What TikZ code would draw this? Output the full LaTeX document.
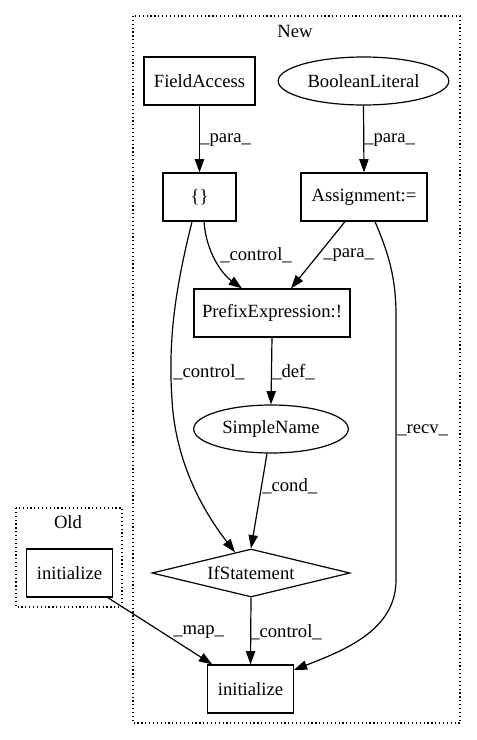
\documentclass[tikz,border=0pt]{standalone}
\usepackage{fontspec}
\setmainfont{Liberation Serif}
\usetikzlibrary{arrows.meta,shapes.geometric}
\begin{document}
\begin{tikzpicture}[x=0.75pt,y=-0.75pt,
  every node/.style={font=\fontsize{14pt}{16pt}\selectfont, inner sep=0pt},
  box/.style={draw, line width=0.9pt, rectangle, minimum height=36pt},
  oval/.style={draw, line width=0.9pt, ellipse, minimum height=36pt},
  dia/.style={draw, line width=0.9pt, diamond, aspect=4.1, minimum width=148.5pt, minimum height=36pt},
  edge/.style={draw, line width=0.9pt, -{Triangle[length=10pt,width=7pt]}},
  elabel/.style={anchor=west},
  cluster/.style={draw, dotted, line width=0.9pt}]
\useasboundingbox (0,0) rectangle (476,740);
% clusters
\draw[cluster] (133,16) rectangle (460,723);
\node (newlbl) at (295,31) {New};
\draw[cluster] (16,508) rectangle (122,607);
\node (oldlbl) at (68,522) {Old};
% nodes
\node[box, minimum width=83.25pt] (fa) at (199.5,81) {FieldAccess};
\node[oval, minimum width=128pt] (bl) at (363.5,81) {BooleanLiteral};
\node[box, minimum width=54.75pt] (c) at (199.5,197) {\{\}};
\node[box, minimum width=94.5pt] (asg) at (364,197) {Assignment:=};
\node[box, minimum width=117pt] (pe) at (272,313) {PrefixExpression:!};
\node[oval, minimum width=116pt] (sn) at (271,429) {SimpleName};
\node[dia] (ifs) at (251,573) {IfStatement};
\node[box, minimum width=64pt] (ini) at (250.5,689) {initialize};
\node[box, minimum width=64pt] (oini) at (69.5,573) {initialize};
% edges
\draw[edge] (fa.south) -- (c.north);
\node[elabel] (l1) at (200,140) {\_para\_};
\draw[edge] (bl.south) -- (asg.north);
\node[elabel] (l2) at (364,140) {\_para\_};
\draw[edge] ([xshift=3.4pt]c.south) .. controls (206,252) and (222,274) .. ([xshift=-22.5pt]pe.north);
\node[elabel] (l3) at (220,255) {\_control\_};
\draw[edge] ([xshift=-14.25pt]asg.south) -- ([xshift=14.25pt]pe.north);
\node[elabel] (l4) at (323,255) {\_para\_};
\draw[edge] ([xshift=-5.6pt]c.south) .. controls (175,290) and (168,340) .. (172,400) .. controls (176,470) and (210,520) .. ([xshift=-12pt,yshift=-2.9pt]ifs.north);
\node[elabel] (l5) at (173,372) {\_control\_};
\draw[edge] ([xshift=8.25pt]asg.south) .. controls (387,250) and (396,275) .. (396,315) -- (396,580) .. controls (396,630) and (345,650) .. ([yshift=14.25pt]ini.east);
\node[elabel] (l6) at (397,430) {\_recv\_};
\draw[edge] (pe.south) -- (sn.north);
\node[elabel] (l7) at (272,372) {\_def\_};
\draw[edge] ([xshift=-3pt]sn.south) -- (ifs.north);
\node[elabel] (l8) at (262,486) {\_cond\_};
\draw[edge] (ifs.south) -- (ini.north);
\node[elabel] (l9) at (250,632) {\_control\_};
\draw[edge] ([xshift=-3.75pt]oini.south east) -- ([xshift=3.75pt]ini.north west);
\node[elabel] (l10) at (173,632) {\_map\_};
\end{tikzpicture}
\end{document}
